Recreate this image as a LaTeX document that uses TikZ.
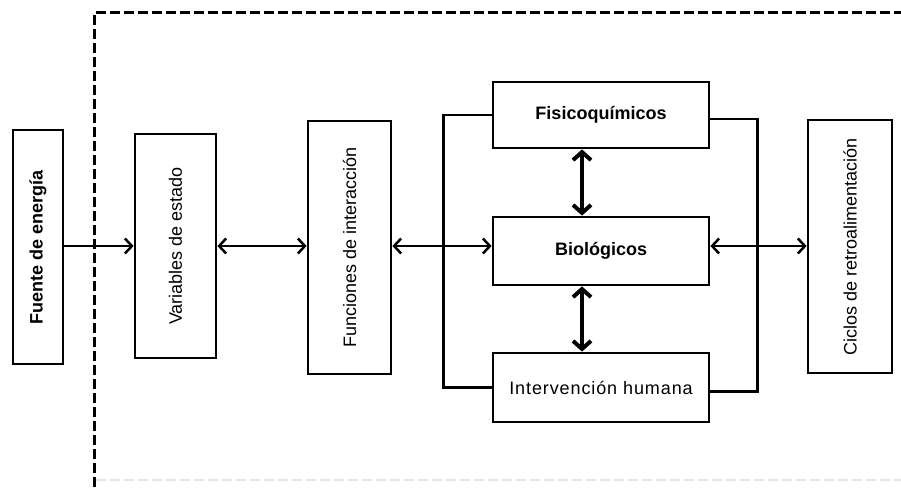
\documentclass[tikz,border=0pt]{standalone}
\usepackage{fontspec}
\usepackage{graphicx}
\setmainfont{Liberation Sans}
\newfontfamily\widefont[LetterSpace=5]{Liberation Sans}
\usetikzlibrary{arrows.meta,calc}

\begin{document}
\begin{tikzpicture}[x=1pt,y=-1pt,
  box/.style={draw, line width=2.8pt, inner sep=0pt, align=center,
              font=\fontsize{18}{21}\selectfont},
  wire/.style={line width=2.8pt},
  one/.style={line width=2.5pt, -{Straight Barb[length=7pt,width=15pt]}},
  dbl/.style={line width=2.5pt, {Straight Barb[length=7pt,width=15pt]}-{Straight Barb[length=7pt,width=15pt]}},
  vdbl/.style={line width=4pt, {Straight Barb[length=8pt,width=18pt]}-{Straight Barb[length=8pt,width=18pt]}},
  frame/.style={line width=3pt, dash pattern=on 10pt off 4pt},
  faint/.style={line width=2pt, gray!20, dash pattern=on 10pt off 4pt}]

\useasboundingbox (0,0) rectangle (901,487);

% system boundary
\draw[frame] (94,487) -- (94,13) -- (901,13);
\draw[faint] (96,480) -- (901,480);

% blocks
\node[box, minimum width=50pt,  minimum height=234pt] (fuente) at (38,247)
  {\rotatebox{90}{\bfseries Fuente de energía}};
\node[box, minimum width=81pt,  minimum height=224pt] (vars) at (175.5,246)
  {\rotatebox{90}{Variables de estado}};
\node[box, minimum width=83pt,  minimum height=253pt] (func) at (349.5,247.5)
  {\rotatebox{90}{Funciones de interacción}};
\node[box, minimum width=216pt, minimum height=66pt] (fisico) at (601,115)
  {\bfseries Fisicoquímicos};
\node[box, minimum width=216pt, minimum height=68pt] (bio) at (601,251)
  {\bfseries Biológicos};
\node[box, minimum width=216pt, minimum height=69pt] (interv) at (601,387.5)
  {\widefont Intervención humana};
\node[box, minimum width=84pt,  minimum height=253pt] (ciclos) at (850,246.5)
  {\rotatebox{90}{Ciclos de retroalimentación}};

% brackets grouping the three components
\draw[wire] (fisico.west) -- ++(-48,0) |- (interv.west);
\draw[wire] ($(fisico.east)+(0,4)$) -- ++(47,0) |- ($(interv.east)+(0,4)$);

% main flow
\coordinate (row) at (0,246);
\draw[one] (fuente.east |- row) -- (vars.west |- row);
\draw[dbl] (vars.east |- row) -- (func.west |- row);
\draw[dbl] (func.east |- row) -- (bio.west |- row);
\draw[dbl] (bio.east |- row) -- (ciclos.west |- row);

% exchanges between components
\draw[vdbl] ($(fisico.south)+(-19,0)$) -- ($(bio.north)+(-19,0)$);
\draw[vdbl] ($(bio.south)+(-19,0)$) -- ($(interv.north)+(-19,0)$);
\end{tikzpicture}
\end{document}
